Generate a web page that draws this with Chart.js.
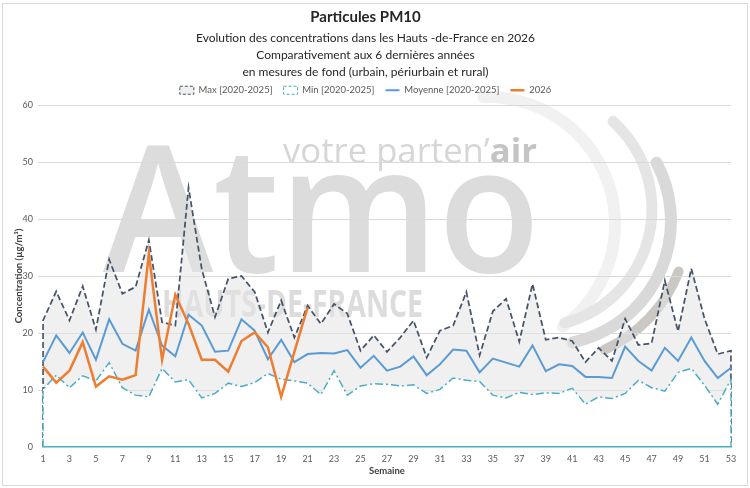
<!DOCTYPE html>
<html>
<head>
<meta charset="utf-8">
<script src="https://cdn.jsdelivr.net/npm/chart.js@4.4.0/dist/chart.umd.min.js"></script>
<style>
  html, body { margin: 0; padding: 0; background: #fff; }
  #wrap { width: 750px; height: 488px; }
</style>
</head>
<body>
<div id="wrap"><canvas id="pm10"></canvas></div>
<script>
var weeks = ['1', '2', '3', '4', '5', '6', '7', '8', '9', '10', '11', '12', '13', '14', '15', '16', '17', '18',
  '19', '20', '21', '22', '23', '24', '25', '26', '27', '28', '29', '30', '31', '32', '33', '34', '35', '36',
  '37', '38', '39', '40', '41', '42', '43', '44', '45', '46', '47', '48', '49', '50', '51', '52', '53'];

var maxValues = [22.2, 27.3, 22.2, 28.2, 20.6, 32.9, 26.9, 28.1, 36.3, 21.9,
  21.3, 45.5, 31.2, 22.8, 29.5, 30.0, 27.2, 20.1, 25.7, 19.2,
  24.8, 21.6, 25.1, 23.4, 16.9, 19.6, 16.7, 19.2, 22.2, 15.7,
  20.4, 21.3, 27.2, 16.1, 23.8, 26.0, 18.5, 28.6, 18.8, 19.2,
  18.6, 14.9, 17.4, 15.1, 22.5, 17.9, 18.2, 29.2, 20.3, 31.3,
  22.5, 16.3, 16.9];

var minValues = [10.1, 12.6, 10.4, 12.5, 11.6, 14.8, 10.4, 9.1, 8.8, 13.8,
  11.4, 11.8, 8.6, 9.4, 11.2, 10.6, 11.3, 12.9, 11.9, 11.6,
  11.2, 9.2, 13.4, 9.1, 10.7, 11.1, 11.0, 10.7, 10.9, 9.4,
  10.1, 12.1, 11.7, 11.5, 9.1, 8.6, 9.6, 9.2, 9.5, 9.4,
  10.3, 7.5, 8.8, 8.5, 9.4, 11.7, 10.4, 9.8, 13.1, 13.8,
  10.8, 7.5, 11.9];

var meanValues = [14.9, 19.6, 16.5, 20.1, 15.3, 22.4, 18.1, 16.9, 24.1, 17.8,
  15.9, 23.2, 21.3, 16.7, 16.9, 22.4, 20.4, 15.4, 18.8, 14.9,
  16.3, 16.5, 16.4, 17.0, 13.9, 16.0, 13.4, 14.1, 15.9, 12.6,
  14.5, 17.1, 16.9, 13.1, 15.5, 14.8, 14.1, 17.8, 13.3, 14.5,
  14.2, 12.3, 12.3, 12.1, 17.6, 15.1, 13.4, 17.4, 15.1, 19.2,
  15.1, 12.1, 13.9];

var values2026 = [14.1, 11.3, 13.4, 18.4, 10.6, 12.4, 11.8, 12.6, 33.9, 15.3,
  26.7, 21.6, 15.3, 15.3, 13.2, 18.6, 20.1, 17.5, 8.8, 16.7, 24.5];

var yTicks = [0, 10, 20, 30, 40, 50, 60];

// closed outline (excel area style): drop to 0 at both ends
function areaOutline(values) {
  var pts = [{ x: weeks[0], y: 0 }];
  values.forEach(function (v, i) { pts.push({ x: weeks[i], y: v }); });
  pts.push({ x: weeks[weeks.length - 1], y: 0 });
  return pts;
}

function arc(ctx, cx, cy, r, a0, a1, color, w) {
  ctx.beginPath();
  ctx.strokeStyle = color;
  ctx.lineWidth = w;
  ctx.arc(cx, cy, r, a0 * Math.PI / 180, a1 * Math.PI / 180);
  ctx.stroke();
}

// background logo of the source image
var watermark = {
  id: 'watermark',
  beforeDraw: function (chart) {
    var ctx = chart.ctx;
    ctx.save();
    ctx.fillStyle = '#fff';
    ctx.fillRect(0, 0, chart.width, chart.height);
    ctx.strokeStyle = '#d9d9d9';
    ctx.lineWidth = 1;
    ctx.strokeRect(2.5, 3.5, 745, 482);

    ctx.lineCap = 'round';
    arc(ctx, 488, 224, 127, -92, 54, '#f1f1f1', 12);
    arc(ctx, 534, 209, 118, -48, 75, '#e5e5e5', 11);
    arc(ctx, 547, 221, 124, -28, 78, '#d9d9d9', 12);
    arc(ctx, 547, 221, 141, 21, 66, '#cbc7c3', 10);

    ctx.textBaseline = 'alphabetic';
    ctx.textAlign = 'left';

    ctx.save();
    ctx.font = '600 176px "Open Sans"';
    var w = ctx.measureText('Atmo').width;
    ctx.translate(103, 272);
    ctx.scale(437 / w, 1);
    ctx.fillStyle = '#dcdcdc';
    ctx.fillText('Atmo', 0, 0);
    ctx.restore();

    ctx.save();
    ctx.font = '34px "Open Sans"';
    var w1 = ctx.measureText('votre parten\u2019').width;
    ctx.font = 'bold 34px "Open Sans"';
    var w2 = ctx.measureText('air').width;
    ctx.translate(283, 163);
    ctx.scale(254 / (w1 + w2), 1);
    ctx.font = '34px "Open Sans"';
    ctx.fillStyle = '#d6d6d6';
    ctx.fillText('votre parten\u2019', 0, 0);
    ctx.font = 'bold 34px "Open Sans"';
    ctx.fillStyle = '#c4c4c4';
    ctx.fillText('air', w1, 0);
    ctx.restore();

    ctx.save();
    ctx.font = 'bold 38px "Open Sans"';
    var w3 = ctx.measureText('E-FRANCE').width;
    ctx.translate(423, 317);
    ctx.scale(136 / w3, 1);
    ctx.textAlign = 'right';
    ctx.fillStyle = '#dcdcdc';
    ctx.fillText('HAUTS-DE-FRANCE', 0, 0);
    ctx.restore();

    ctx.restore();
  }
};

Chart.defaults.font.family = 'Lato';
Chart.defaults.color = '#595959';

new Chart('pm10', {
  type: 'line',
  data: {
    labels: weeks,
    datasets: [{
      label: 'Max [2020-2025]',
      data: areaOutline(maxValues),
      borderColor: '#44546a',
      borderWidth: 1.75,
      borderDash: [6, 3],
      backgroundColor: 'rgba(228,228,228,0.55)',
      fill: 'origin',
      pointRadius: 0,
      pointStyle: 'rect',
      tension: 0,
      order: 4
    }, {
      label: 'Min [2020-2025]',
      data: areaOutline(minValues),
      borderColor: '#4bacc6',
      borderWidth: 1.5,
      borderDash: [8, 3, 2, 3],
      backgroundColor: '#ffffff',
      fill: 'origin',
      pointRadius: 0,
      pointStyle: 'rect',
      tension: 0,
      order: 3
    }, {
      label: 'Moyenne [2020-2025]',
      data: meanValues,
      borderColor: '#5b9bd5',
      borderWidth: 2,
      fill: false,
      pointRadius: 0,
      pointStyle: 'line',
      tension: 0,
      order: 2
    }, {
      label: '2026',
      data: values2026,
      borderColor: '#ed7d31',
      borderWidth: 2.5,
      fill: false,
      pointRadius: 0,
      pointStyle: 'line',
      tension: 0,
      order: 1
    }]
  },
  options: {
    responsive: true,
    maintainAspectRatio: false,
    animation: false,
    devicePixelRatio: 1,
    layout: { padding: { top: 8, right: 19, bottom: 0, left: 0 } },
    plugins: {
      tooltip: { enabled: false },
      title: {
        display: true,
        text: 'Particules PM10',
        color: '#262626',
        font: { size: 15, weight: 'bold' },
        padding: { top: 0, bottom: 2 }
      },
      subtitle: {
        display: true,
        text: ['Evolution des concentrations dans les Hauts -de-France en 2026',
          'Comparativement aux 6 derni\u00e8res ann\u00e9es',
          'en mesures de fond (urbain, p\u00e9riurbain et rural)'],
        color: '#262626',
        font: { size: 12, lineHeight: 1.417 },
        padding: { top: 1.5, bottom: -6 }
      },
      legend: {
        display: true,
        position: 'top',
        labels: {
          usePointStyle: true,
          pointStyleWidth: 14,
          boxHeight: 8,
          padding: 11,
          color: '#595959',
          font: { size: 9.5 },
          sort: function (a, b) { return a.datasetIndex - b.datasetIndex; },
          generateLabels: function (chart) {
            var items = Chart.defaults.plugins.legend.labels.generateLabels(chart);
            items.forEach(function (it) {
              if (it.pointStyle === 'rect') { it.lineWidth = 1; it.lineDash = [3, 2]; }
            });
            return items;
          }
        }
      }
    },
    scales: {
      x: {
        grid: { display: false, drawTicks: false },
        border: { display: true, color: '#4bacc6', width: 1.5, dash: [8, 3, 2, 3], z: 1 },
        ticks: {
          autoSkip: false,
          maxRotation: 0,
          padding: 7,
          font: { size: 9 },
          color: '#595959',
          callback: function (value, index) { return index % 2 === 0 ? weeks[index] : ''; }
        },
        title: {
          display: true,
          text: 'Semaine',
          color: '#404040',
          font: { size: 9.5, weight: 'bold' },
          padding: { top: 0, bottom: 11 }
        },
        afterFit: function (scale) { scale.height = 41; }
      },
      y: {
        min: 0,
        max: 60,
        afterBuildTicks: function (scale) {
          scale.ticks = yTicks.map(function (v) { return { value: v }; });
        },
        grid: {
          color: function (c) { return c.tick && c.tick.value === 0 ? 'rgba(0,0,0,0)' : '#d9d9d9'; },
          lineWidth: 1,
          tickLength: 5
        },
        border: { display: false },
        ticks: { padding: 5, font: { size: 9 }, color: '#595959' },
        title: {
          display: true,
          text: 'Concentration (\u00b5g/m\u00b3)',
          color: '#404040',
          font: { size: 9.5, weight: 'bold' },
          padding: { top: 13, bottom: 0 }
        },
        afterFit: function (scale) { scale.width = 43; }
      }
    }
  },
  plugins: [watermark]
});
</script>
</body>
</html>
